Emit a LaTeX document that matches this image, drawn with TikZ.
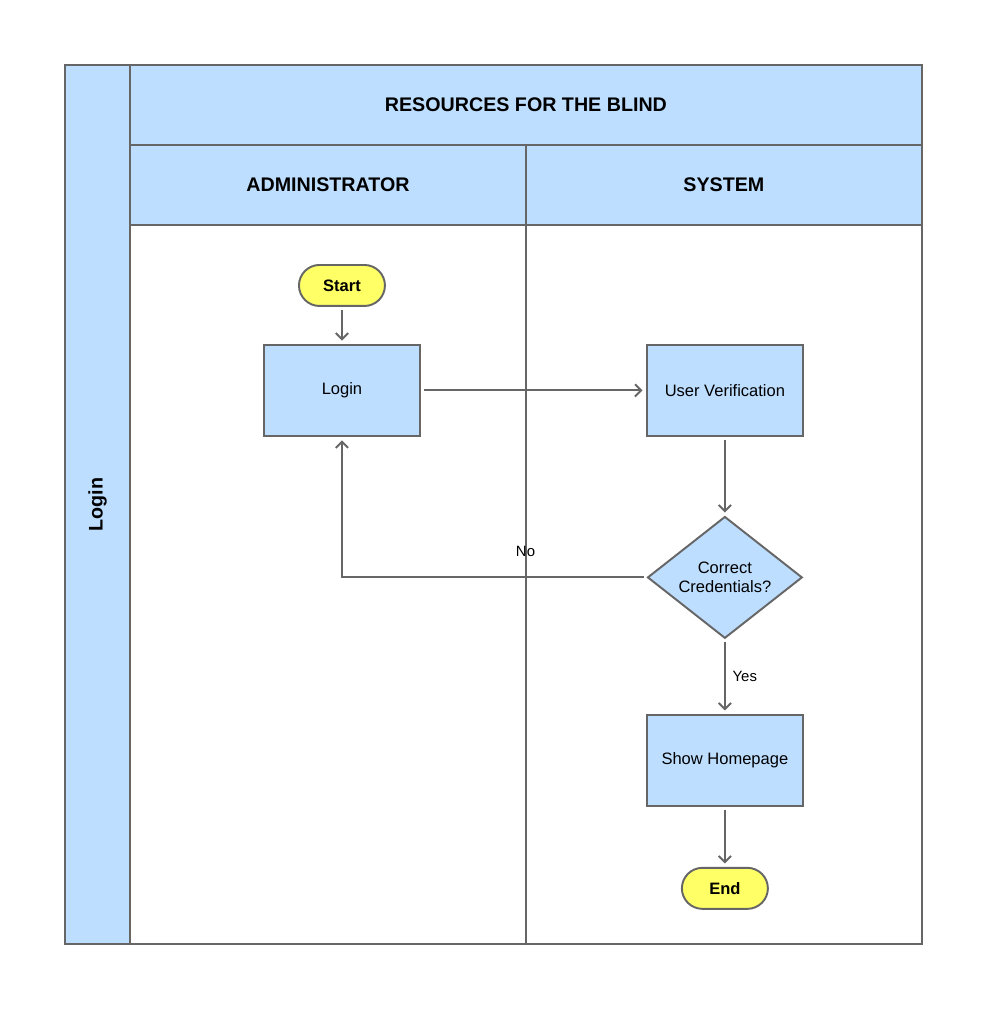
\documentclass[tikz,border=0pt]{standalone}
\usepackage{fontspec}
\setmainfont{Liberation Sans}
\usetikzlibrary{positioning, shapes.geometric, arrows.meta}
\definecolor{lane_blue}{RGB}{189, 222, 255}
\definecolor{term_yellow}{RGB}{255, 255, 102}
\definecolor{edge_gray}{RGB}{102, 102, 102}

\begin{document}
\begin{tikzpicture}[
    x=0.02cm, y=-0.02cm,
    >={Straight Barb[length=3.5pt, width=7pt]},
    node distance=1cm and 1cm,
    every node/.style={outer sep=0pt},
    font=\fontsize{9.4}{11}\selectfont,
    % Swimlane header style
    header/.style={
        draw=edge_gray,
        line width=1.1pt,
        rectangle,
        fill=lane_blue,
        inner sep=0pt,
        font=\fontsize{11.2}{13}\selectfont\bfseries
    },
    % Empty lane body
    lane/.style={
        draw=edge_gray,
        line width=1.1pt,
        rectangle,
        fill=white,
        minimum width=7.92cm,
        minimum height=14.38cm
    },
    % Flow step boxes
    process/.style={
        draw=edge_gray,
        line width=1.1pt,
        rectangle,
        fill=lane_blue,
        align=center,
        minimum width=3.12cm,
        minimum height=1.82cm
    },
    terminal/.style={
        draw=edge_gray,
        line width=1.1pt,
        rectangle,
        rounded corners=0.41cm,
        fill=term_yellow,
        minimum width=1.72cm,
        minimum height=0.82cm,
        font=\fontsize{9.4}{11}\selectfont\bfseries
    },
    decision/.style={
        draw=edge_gray,
        line width=1.1pt,
        shape=diamond,
        aspect=1.27,
        inner sep=0pt,
        fill=lane_blue,
        align=center,
        minimum width=3.08cm,
        minimum height=2.42cm
    },
    arrow/.style={->, draw=edge_gray, line width=1.1pt, shorten >=2.5pt, shorten <=2.5pt},
    edge_label/.style={inner sep=1pt, font=\fontsize{8.5}{10}\selectfont}
]

    \useasboundingbox (0,0) rectangle (988,1009);

    % ==========================================
    % 1. POOL & SWIMLANES
    % ==========================================

    \node (title) [header, minimum width=15.84cm, minimum height=1.6cm, anchor=north west]
        at (130,65) {RESOURCES FOR THE BLIND};

    \node (pool) [header, rotate=90, minimum width=17.58cm, minimum height=1.3cm, anchor=south east]
        at (title.north west) {Login};

    \node (admin_head) [header, minimum width=7.92cm, minimum height=1.6cm, anchor=north west]
        at (title.south west) {ADMINISTRATOR};
    \node (system_head) [header, minimum width=7.92cm, minimum height=1.6cm, anchor=north west]
        at (admin_head.north east) {SYSTEM};

    \node (admin_lane) [lane, anchor=north west] at (admin_head.south west) {};
    \node (system_lane) [lane, anchor=north west] at (system_head.south west) {};

    % ==========================================
    % 2. FLOW STEPS
    % ==========================================

    \node (start) [terminal, below=0.8cm of admin_head, xshift=0.28cm] {Start};
    \node (login) [process, below=0.78cm of start] {Login};
    \node (verify) [process, right=4.54cm of login] {User Verification};
    \node (check) [decision, below=1.62cm of verify] {Correct\\Credentials?};
    \node (home) [process, below=1.54cm of check] {Show Homepage};
    \node (end_node) [terminal, below=1.24cm of home] {End};

    % ==========================================
    % 3. CONNECTORS
    % ==========================================

    \draw [arrow] (start) -- (login);
    \draw [arrow] (login) -- (verify);
    \draw [arrow] (verify) -- (check);
    \draw [arrow] (check.west) -| (login.south)
        node[edge_label, pos=0.2, above=0.38cm] {No};
    \draw [arrow] (check) -- (home)
        node[edge_label, midway, right=0.12cm] {Yes};
    \draw [arrow] (home) -- (end_node);

\end{tikzpicture}
\end{document}
